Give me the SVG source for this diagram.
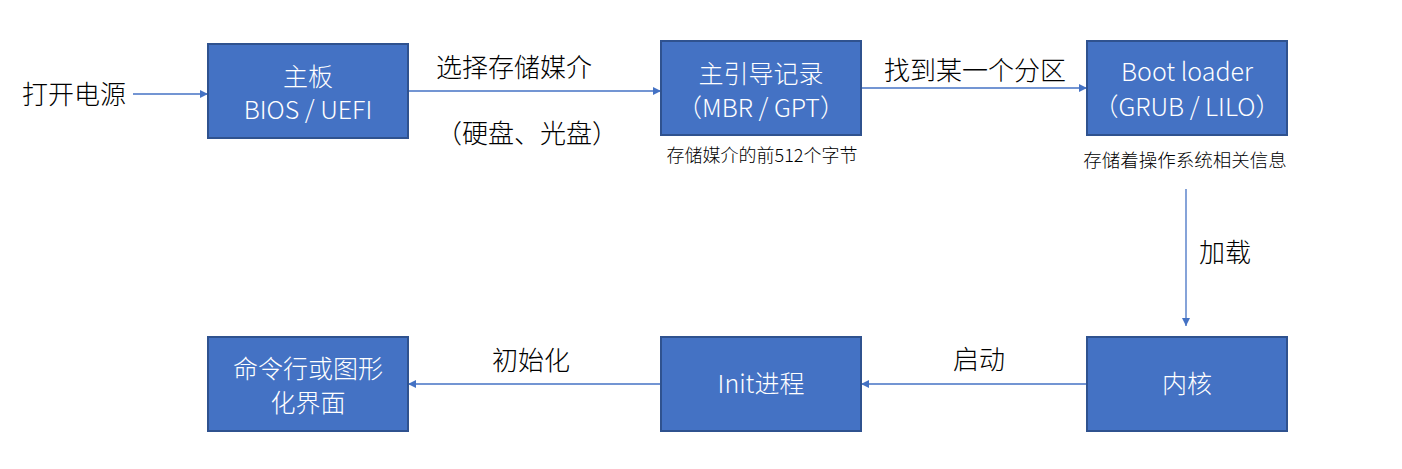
<svg xmlns="http://www.w3.org/2000/svg" width="1402" height="469" viewBox="0 0 1402 469">
<defs>
<style>
.box{fill:#4472C4;stroke:#2F528F;stroke-width:2}
.bt{fill:#FFFFFF;font-family:"Noto Sans CJK SC","Noto Sans",sans-serif;font-size:25px;font-weight:300;text-anchor:middle}
.lb{fill:#000000;font-family:"Noto Sans CJK SC","Noto Sans",sans-serif;font-size:26px;font-weight:300}
.sm{fill:#000000;font-family:"Noto Sans CJK SC","Noto Sans",sans-serif;font-size:18px;font-weight:300;text-anchor:middle}
.cn{stroke:#4472C4;stroke-width:1.3;fill:none;marker-end:url(#ah)}
</style>
<marker id="ah" viewBox="0 0 10 10" refX="10" refY="5" markerWidth="8" markerHeight="8" markerUnits="userSpaceOnUse" orient="auto">
<path d="M0,0 L10,5 L0,10 Z" fill="#4472C4"/>
</marker>
</defs>
<rect width="1402" height="469" fill="#FFFFFF"/>
<g id="connectors">
<line class="cn" x1="133" y1="94" x2="208" y2="94"/>
<line class="cn" x1="408" y1="91" x2="661" y2="91"/>
<line class="cn" x1="861" y1="88" x2="1087" y2="88"/>
<line class="cn" x1="1186" y1="189" x2="1186" y2="326"/>
<line class="cn" x1="1087" y1="384" x2="861" y2="384"/>
<line class="cn" x1="661" y1="384" x2="408" y2="384"/>
<text class="lb" x="436" y="77">选择存储媒介</text>
<text class="lb" x="436" y="143">（硬盘、光盘）</text>
<text class="lb" x="884" y="80">找到某一个分区</text>
<text class="lb" x="1199" y="262">加载</text>
<text class="lb" x="953" y="369">启动</text>
<text class="lb" x="492" y="370">初始化</text>
</g>
<g id="start"><text class="lb" x="22" y="104">打开电源</text></g>
<g id="bios">
<rect class="box" x="208" y="44" width="200" height="94"/>
<text class="bt" x="308" y="86">主板</text>
<text class="bt" x="308" y="119">BIOS / UEFI</text>
</g>
<g id="mbr">
<rect class="box" x="661" y="41" width="200" height="94"/>
<text class="bt" x="761" y="83">主引导记录</text>
<text class="bt" x="761" y="117">（MBR / GPT）</text>
<text class="sm" x="762" y="162">存储媒介的前512个字节</text>
</g>
<g id="bootloader">
<rect class="box" x="1087" y="41" width="200" height="94"/>
<text class="bt" x="1187" y="81">Boot loader</text>
<text class="bt" x="1187" y="116">（GRUB / LILO）</text>
<text class="sm" x="1185" y="167" style="font-size:18.5px">存储着操作系统相关信息</text>
</g>
<g id="kernel">
<rect class="box" x="1087" y="337" width="200" height="94"/>
<text class="bt" x="1187" y="393">内核</text>
</g>
<g id="init">
<rect class="box" x="661" y="337" width="200" height="94"/>
<text class="bt" x="761" y="393">Init进程</text>
</g>
<g id="ui">
<rect class="box" x="208" y="337" width="200" height="94"/>
<text class="bt" x="308" y="378">命令行或图形</text>
<text class="bt" x="308" y="412">化界面</text>
</g>
</svg>
